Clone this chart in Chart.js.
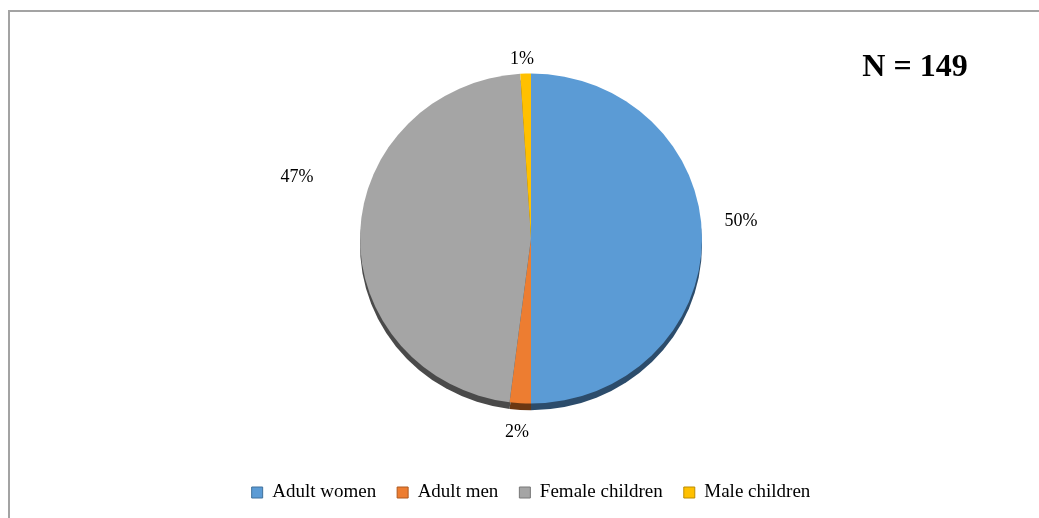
<!DOCTYPE html>
<html>
<head>
<meta charset="utf-8">
<script src="https://cdn.jsdelivr.net/npm/chart.js@4.4.1/dist/chart.umd.min.js"></script>
<style>
    html, body { margin: 0; padding: 0; background: #fff; }
    canvas { display: block; }
</style>
</head>
<body>
<canvas id="groupChart" width="1039" height="518"></canvas>
<script>
// Share of the sample by group
const groups = ['Adult women', 'Adult men', 'Female children', 'Male children'];
const shares = [50, 2, 47, 1];
const sampleSize = 149;

const sliceColors = ['#5B9BD5', '#ED7D31', '#A5A5A5', '#FFC000'];
const edgeColors = ['#41719C', '#AE5A21', '#787878', '#BC8C00'];
const shadowColors = ['#2c4c6b', '#6b3712', '#4a4a4a', '#7a5c00'];

// pie is tilted a little, so it is squashed vertically
const tilt = 0.965;

// frame around the plot, dark rim under the pie, and the N label
const decorations = {
    id: 'decorations',
    beforeDraw(chart) {
        const c = chart.ctx;
        c.save();
        c.strokeStyle = '#a3a3a3';
        c.lineWidth = 2;
        c.strokeRect(9, 11, 2000, 2000);
        c.restore();
    },
    beforeDatasetsDraw(chart) {
        const c = chart.ctx;
        const arcs = chart.getDatasetMeta(0).data;
        c.save();
        c.translate(arcs[0].x, arcs[0].y);
        c.scale(1, tilt);
        c.translate(-arcs[0].x, -arcs[0].y);
        arcs.forEach((arc, i) => {
            c.beginPath();
            c.moveTo(arc.x, arc.y + 7);
            c.arc(arc.x, arc.y + 7, arc.outerRadius, arc.startAngle, arc.endAngle);
            c.closePath();
            c.fillStyle = shadowColors[i];
            c.fill();
        });
        // left on the stack so the slices get the same squash
    },
    afterDatasetsDraw(chart, args, opts) {
        const c = chart.ctx;
        c.restore();
        const arcs = chart.getDatasetMeta(0).data;
        c.save();
        c.font = '18px "Liberation Serif", "Times New Roman", serif';
        c.fillStyle = '#000';
        c.textAlign = 'center';
        c.textBaseline = 'middle';
        arcs.forEach((arc, i) => {
            const mid = (arc.startAngle + arc.endAngle) / 2;
            const d = arc.outerRadius + opts.gap;
            const off = opts.offsets[i];
            c.fillText(shares[i] + '%', arc.x + Math.cos(mid) * d + off[0], arc.y + Math.sin(mid) * d * tilt + off[1]);
        });
        c.font = 'bold 32px "Liberation Serif", "Times New Roman", serif';
        c.fillText('N = ' + sampleSize, 915, 68);
        c.restore();
    }
};

const ctx = document.getElementById('groupChart').getContext('2d');
const groupChart = new Chart(ctx, {
    type: 'pie',
    data: {
        labels: groups,
        datasets: [{
            data: shares,
            backgroundColor: sliceColors,
            borderWidth: 0,
            radius: 171
        }]
    },
    options: {
        responsive: false,
        animation: false,
        layout: { padding: { left: 23, top: 15, bottom: 6 } },
        plugins: {
            tooltip: { enabled: false },
            decorations: { gap: 22, offsets: [[17, -17], [-2, 8], [-41, -55], [-3, 7]] },
            legend: {
                position: 'bottom',
                labels: {
                    color: '#000',
                    boxWidth: 11,
                    boxHeight: 11,
                    padding: 21,
                    font: { family: '"Liberation Serif", "Times New Roman", serif', size: 19 },
                    generateLabels(chart) {
                        return Chart.controllers.pie.overrides.plugins.legend.labels.generateLabels(chart)
                            .map((item, i) => Object.assign(item, { strokeStyle: edgeColors[i], lineWidth: 1 }));
                    }
                }
            }
        }
    },
    plugins: [decorations]
});
</script>
</body>
</html>
